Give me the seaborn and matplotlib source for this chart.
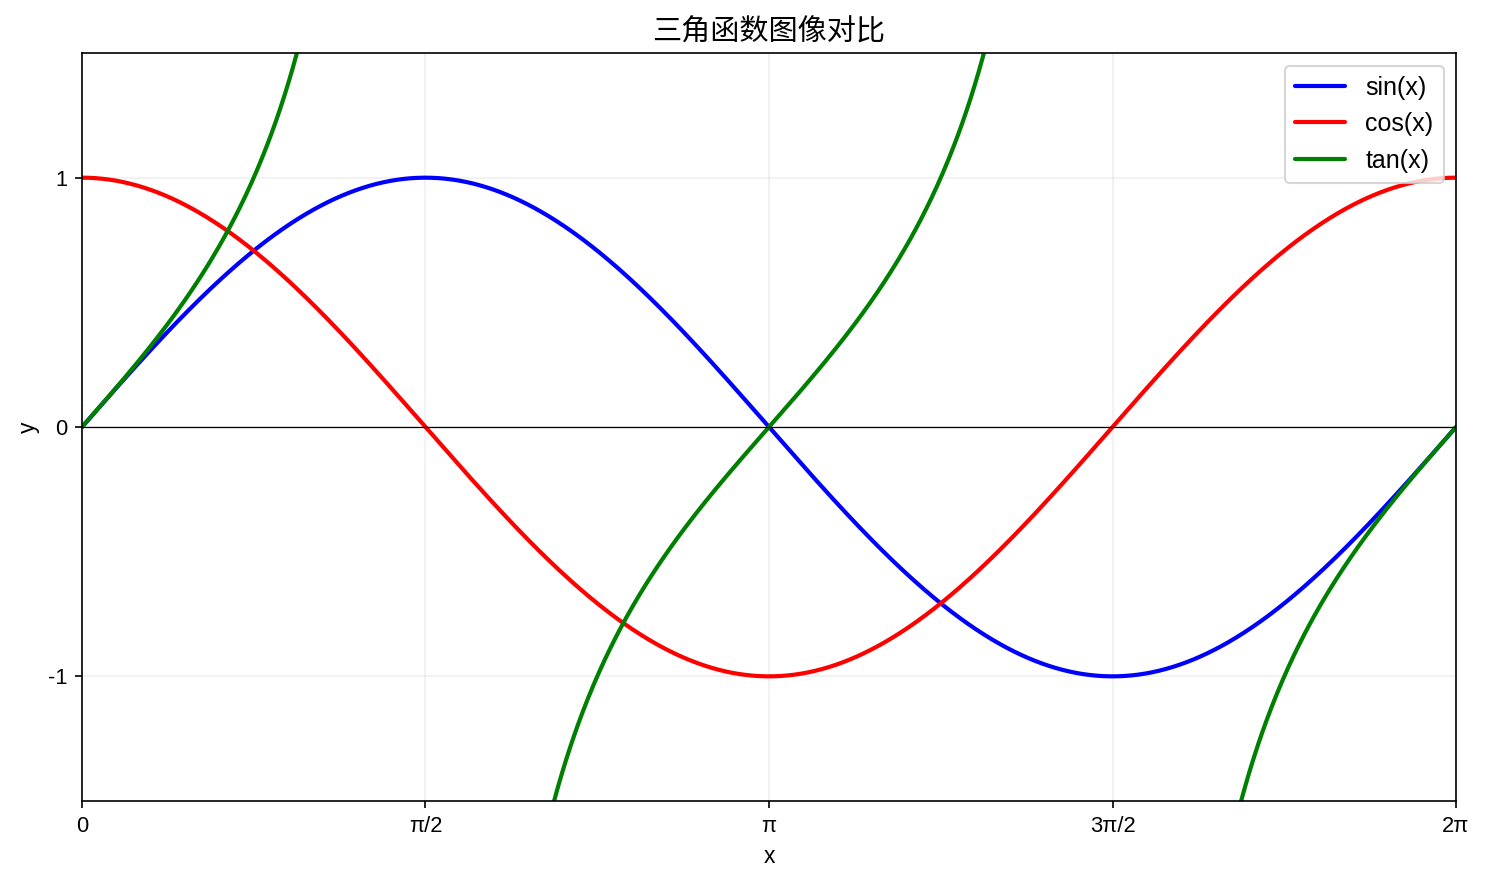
import numpy as np
import pandas as pd
import matplotlib
matplotlib.use('Agg')
import matplotlib.pyplot as plt
import seaborn as sns

# Data - the three curves over one full period
x = np.linspace(0, 2 * np.pi, 1000)
sin_y = np.sin(x)
cos_y = np.cos(x)
tan_y = np.tan(x)

series_names = ['sin(x)', 'cos(x)', 'tan(x)']
series_colors = ['blue', 'red', 'green']

x_ticks = [0, np.pi / 2, np.pi, 3 * np.pi / 2, 2 * np.pi]
x_tick_labels = ['0', 'π/2', 'π', '3π/2', '2π']
y_ticks = [-1, 0, 1]
y_tick_labels = ['-1', '0', '1']

# tan gets split into branches so the line is not drawn across the asymptotes
branch = np.floor((x + np.pi / 2) / np.pi).astype(int)
tan_keep = np.abs(tan_y) <= 10

df = pd.concat([
    pd.DataFrame({'x': x, 'y': sin_y, 'func': 'sin(x)', 'seg': 0}),
    pd.DataFrame({'x': x, 'y': cos_y, 'func': 'cos(x)', 'seg': 0}),
    pd.DataFrame({'x': x[tan_keep], 'y': tan_y[tan_keep], 'func': 'tan(x)',
                  'seg': branch[tan_keep]}),
], ignore_index=True)

sns.set_style('ticks')
plt.rcParams['font.family'] = ['Liberation Sans', 'Noto Sans CJK SC', 'DejaVu Sans']
plt.rcParams['axes.unicode_minus'] = False
for key in ['text.color', 'axes.labelcolor', 'xtick.color', 'ytick.color', 'axes.edgecolor']:
    plt.rcParams[key] = 'black'

fig, ax = plt.subplots(figsize=(9.9, 5.9), dpi=150)
fig.subplots_adjust(left=0.0552, right=0.9805, top=0.9401, bottom=0.0949)

sns.lineplot(data=df, x='x', y='y', hue='func', hue_order=series_names,
             palette=series_colors, units='seg', estimator=None,
             linewidth=2, ax=ax, sort=False)

ax.axhline(0, color='black', linewidth=0.6)
ax.grid(True, alpha=0.3)
ax.set_xlim(0, 2 * np.pi)
ax.set_ylim(-1.5, 1.5)
ax.set_xticks(x_ticks)
ax.set_xticklabels(x_tick_labels)
ax.set_yticks(y_ticks)
ax.set_yticklabels(y_tick_labels)
ax.set_xlabel('x', fontsize=11)
ax.set_ylabel('y', fontsize=11)
ax.set_title('三角函数图像对比', fontsize=14)
ax.tick_params(labelsize=10.5)
for s in ax.spines.values():
    s.set_visible(True)

ax.legend(loc='upper right', fontsize=12, title=None)

plt.savefig('out.png', dpi=150)
plt.close()
